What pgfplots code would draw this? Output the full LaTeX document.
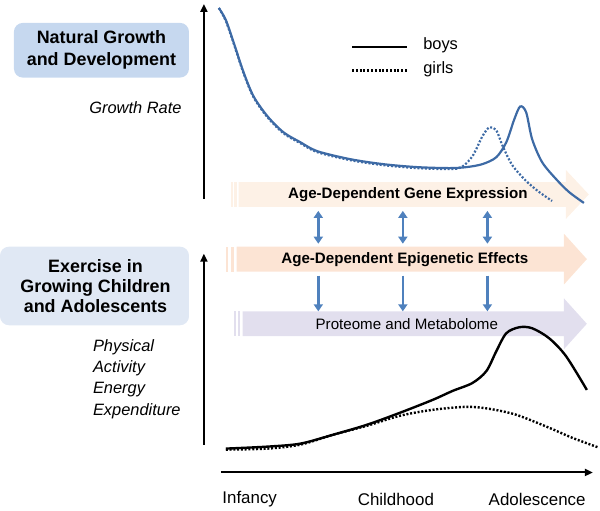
\documentclass[border=0pt]{standalone}
\usepackage{pgfplots}
\pgfplotsset{compat=1.18}
\usepackage{fontspec}
\setmainfont{Liberation Sans}
\usetikzlibrary{arrows.meta}
\definecolor{boxA}{HTML}{C6D8EF}
\definecolor{boxB}{HTML}{E0E8F4}
\definecolor{geneC}{HTML}{FDF1E6}
\definecolor{epiC}{HTML}{FCE4D4}
\definecolor{protC}{HTML}{E2DFEE}
\definecolor{curveB}{HTML}{3D6AA5}
\definecolor{arrB}{HTML}{4F81BD}
\begin{document}
\begin{tikzpicture}
\begin{axis}[scale only axis, width=600pt, height=512pt,
  xmin=0, xmax=600, ymin=0, ymax=512, y dir=reverse,
  hide axis, clip=false]
% bounding box
\path (axis cs:0,0) rectangle (axis cs:600,512);
% left boxes
\fill[boxA, rounded corners=9pt] (axis cs:12,23) rectangle (axis cs:188,78);
\node[align=center, font=\fontsize{18}{22}\selectfont\bfseries] at (axis cs:100,50.5) {Natural Growth\\and Development};
\node[anchor=east, font=\fontsize{16.5}{20}\selectfont\itshape] at (axis cs:184,108) {Growth Rate};
\fill[boxB, rounded corners=9pt] (axis cs:-2,248) rectangle (axis cs:188,327);
\node[align=center, font=\fontsize{18}{20}\selectfont\bfseries] at (axis cs:94,288) {Exercise in\\Growing Children\\and Adolescents};
\node[align=left, anchor=west, font=\fontsize{16.5}{21.5}\selectfont\itshape] at (axis cs:88,381) {Physical\\Activity\\Energy\\Expenditure};
% big striped arrows
\fill[geneC] (axis cs:230,183) rectangle (axis cs:232,208);
\fill[geneC] (axis cs:233.5,183) rectangle (axis cs:236,208);
\fill[geneC] (axis cs:238,183) -- (axis cs:567,183) -- (axis cs:567,171) -- (axis cs:590,195.5) -- (axis cs:567,220) -- (axis cs:567,208) -- (axis cs:238,208) -- cycle;
\fill[epiC] (axis cs:225,248) rectangle (axis cs:227.5,273);
\fill[epiC] (axis cs:230,248) rectangle (axis cs:233,273);
\fill[epiC] (axis cs:236,248) -- (axis cs:565,248) -- (axis cs:565,235) -- (axis cs:588,260.5) -- (axis cs:565,286) -- (axis cs:565,273) -- (axis cs:236,273) -- cycle;
\fill[protC] (axis cs:233,313) rectangle (axis cs:235.5,338);
\fill[protC] (axis cs:237,313) rectangle (axis cs:239.5,338);
\fill[protC] (axis cs:242,313) -- (axis cs:565,313) -- (axis cs:565,300) -- (axis cs:588,325.5) -- (axis cs:565,351) -- (axis cs:565,338) -- (axis cs:242,338) -- cycle;
\node[font=\fontsize{15.2}{18}\selectfont\bfseries] at (axis cs:408,196) {Age-Dependent Gene Expression};
\node[font=\fontsize{15.2}{18}\selectfont\bfseries] at (axis cs:405,261) {Age-Dependent Epigenetic Effects};
\node[font=\fontsize{15.2}{18}\selectfont] at (axis cs:407,326) {Proteome and Metabolome};
% blue connector arrows
\draw[arrB, line width=2.6pt, {Triangle[length=7pt,width=9pt]}-{Triangle[length=7pt,width=9pt]}] (axis cs:318,212) -- (axis cs:318,245);
\draw[arrB, line width=2.6pt, -{Triangle[length=7pt,width=9pt]}] (axis cs:318,277) -- (axis cs:318,313);
\draw[arrB, line width=2.6pt, {Triangle[length=7pt,width=9pt]}-{Triangle[length=7pt,width=9pt]}] (axis cs:403,212) -- (axis cs:403,245);
\draw[arrB, line width=2.6pt, -{Triangle[length=7pt,width=9pt]}] (axis cs:403,277) -- (axis cs:403,313);
\draw[arrB, line width=2.6pt, {Triangle[length=7pt,width=9pt]}-{Triangle[length=7pt,width=9pt]}] (axis cs:488,212) -- (axis cs:488,245);
\draw[arrB, line width=2.6pt, -{Triangle[length=7pt,width=9pt]}] (axis cs:488,277) -- (axis cs:488,313);
% axes arrows
\draw[line width=2pt, -{Triangle[length=8pt,width=7pt]}] (axis cs:203,200) -- (axis cs:203,4);
\draw[line width=2pt, -{Triangle[length=8pt,width=7pt]}] (axis cs:203,447) -- (axis cs:203,255);
\draw[line width=2pt, -{Triangle[length=8pt,width=7pt]}] (axis cs:220,475) -- (axis cs:594,475);
\node[font=\fontsize{17}{20}\selectfont] at (axis cs:249,502) {Infancy};
\node[font=\fontsize{17}{20}\selectfont] at (axis cs:396,502) {Childhood};
\node[font=\fontsize{17}{20}\selectfont] at (axis cs:538,502) {Adolescence};
% legend
\draw[line width=2.5pt] (axis cs:352,47) -- (axis cs:407,47);
\draw[line width=2.5pt, dash pattern=on 2pt off 1.8pt] (axis cs:352,71) -- (axis cs:407,71);
\node[anchor=west, font=\fontsize{16.5}{20}\selectfont] at (axis cs:420,46) {boys};
\node[anchor=west, font=\fontsize{16.5}{20}\selectfont] at (axis cs:420,70) {girls};
% growth rate curves
\addplot[curveB, line width=2.2pt, smooth, tension=0.5, dash pattern=on 2pt off 1.8pt] coordinates {
(218,8) (225,21) (233,44) (243,74) (253,98) (267,118) (283,134) (300,144) (317,153) (350,161) (383,166) (417,169) (450,170) (462,168) (473,157) (483,137) (490,128) (497,131) (503,146) (513,166) (527,182) (540,193) (553,202)
};
\addplot[curveB, line width=2.2pt, smooth, tension=0.5] coordinates {
(218,8) (225,20) (233,43) (243,73) (253,97) (267,117) (283,133) (300,143) (317,152) (350,160) (383,165) (417,168) (450,169) (467,168) (483,165) (497,158) (507,143) (515,120) (521,107) (527,113) (533,140) (543,163) (557,180) (570,193) (585,204)
};
% activity curves
\addplot[black, line width=2.4pt, smooth, tension=0.5, dash pattern=on 2pt off 1.8pt] coordinates {
(225,452) (267,451) (300,447) (333,437) (367,428) (400,418) (433,412) (467,409) (490,411) (517,417) (550,430) (573,440) (600,450)
};
\addplot[black, line width=2.4pt, smooth, tension=0.5] coordinates {
(225,451) (267,449) (300,446) (333,437) (367,427) (400,415) (433,402) (453,393) (473,385) (487,373) (497,353) (507,335) (520,329) (533,330) (550,340) (567,358) (588,392)
};
\end{axis}
\end{tikzpicture}
\end{document}
